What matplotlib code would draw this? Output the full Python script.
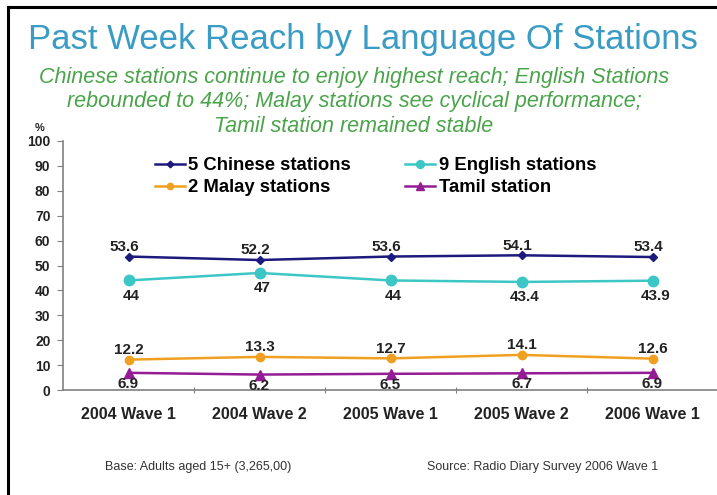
import matplotlib.pyplot as plt
from matplotlib.lines import Line2D

# survey waves and reach (%) per language group
waves = ['2004 Wave 1', '2004 Wave 2', '2005 Wave 1', '2005 Wave 2', '2006 Wave 1']
chinese = [53.6, 52.2, 53.6, 54.1, 53.4]
english = [44, 47, 44, 43.4, 43.9]
malay = [12.2, 13.3, 12.7, 14.1, 12.6]
tamil = [6.9, 6.2, 6.5, 6.7, 6.9]
yticks = [0, 10, 20, 30, 40, 50, 60, 70, 80, 90, 100]

plt.rcParams['font.family'] = ['Liberation Sans', 'DejaVu Sans']

W, H = 717, 495
fig = plt.figure(figsize=(W / 100, H / 100), dpi=100)
fig.patch.set_facecolor('white')

# frame lines on the left and top
fig.add_artist(Line2D([8 / W, 8 / W], [0, 1 - 7 / H], color='black', lw=2.2))
fig.add_artist(Line2D([8 / W, 1], [1 - 7 / H, 1 - 7 / H], color='black', lw=2.2))

x0, x1 = 63, 718
y0, y1 = 390, 141
ax = fig.add_axes([x0 / W, 1 - y0 / H, (x1 - x0) / W, (y0 - y1) / H])

x = list(range(len(waves)))
ax.plot(x, chinese, color='#1c1a7c', lw=1.8, marker='D', ms=4.5, label='5 Chinese stations')
ax.plot(x, english, color='#3cc6c6', lw=1.8, marker='o', ms=7.5, label='9 English stations')
ax.plot(x, malay, color='#f0a020', lw=1.8, marker='o', ms=6, label='2 Malay stations')
ax.plot(x, tamil, color='#941c94', lw=1.8, marker='^', ms=7, label='Tamil station')

lbl = dict(ha='center', fontsize=11, fontweight='bold', color='#222222')
for i in x:
    ax.annotate(f'{chinese[i]:g}', (i, chinese[i]), xytext=(-3, 2), textcoords='offset points', va='bottom', **lbl)
    ax.annotate(f'{english[i]:g}', (i, english[i]), xytext=(2, -6), textcoords='offset points', va='top', **lbl)
    ax.annotate(f'{malay[i]:g}', (i, malay[i]), xytext=(0, 2), textcoords='offset points', va='bottom', **lbl)
    ax.annotate(f'{tamil[i]:g}', (i, tamil[i]), xytext=(0, -3), textcoords='offset points', va='top', **lbl)

ax.set_xlim(-0.5, len(waves) - 0.5)
ax.set_ylim(0, 100)
ax.set_yticks(yticks)
ax.set_yticklabels([str(v) for v in yticks], fontsize=10, fontweight='bold', color='#222222')
ax.set_xticks([i + 0.5 for i in x[:-1]] + [len(waves) - 0.5])
ax.set_xticklabels([])
ax.set_xticks(x, minor=True)
ax.set_xticklabels(waves, minor=True, fontsize=11.5, fontweight='bold', color='#222222')
ax.tick_params(axis='x', which='minor', length=0, pad=12)
ax.tick_params(axis='x', which='major', length=5, direction='inout', color='#808080')
ax.tick_params(axis='y', length=4, color='#808080', pad=5)
for s in ['top', 'right']:
    ax.spines[s].set_visible(False)
for s in ['left', 'bottom']:
    ax.spines[s].set_color('#808080')
    ax.spines[s].set_linewidth(1.2)
ax.set_facecolor('none')

handles, labels = ax.get_legend_handles_labels()
order = [0, 2, 1, 3]
leg_handles = []
for i in order:
    h = handles[i]
    leg_handles.append(Line2D([], [], color=h.get_color(), lw=1.8, marker=h.get_marker(),
                              ms=h.get_markersize() * 0.75))
ax.legend(leg_handles, [labels[i] for i in order], ncol=2, frameon=False,
          loc='upper left', bbox_to_anchor=(155 / W, 1 - 157 / H), bbox_transform=fig.transFigure,
          handlelength=1.6, handletextpad=0.2, borderpad=0,
          columnspacing=2.95, labelspacing=0.28, borderaxespad=0,
          prop={'weight': 'bold', 'size': 13.3})

fig.text(35 / W, 1 - 128 / H, '%', fontsize=8, fontweight='bold', color='#222222', ha='left', va='center')

fig.text(363 / W, 1 - 39 / H, 'Past Week Reach by Language Of Stations', fontsize=25,
         color='#3a9cc4', ha='center', va='center')
sub = ['Chinese stations continue to enjoy highest reach; English Stations',
       'rebounded to 44%; Malay stations see cyclical performance;',
       'Tamil station remained stable']
for k, line in enumerate(sub):
    fig.text(354 / W, 1 - (77 + 25 * k) / H, line, fontsize=15.5, style='italic',
             color='#4aa44a', ha='center', va='center')

fig.text(198 / W, 1 - 467 / H, 'Base: Adults aged 15+ (3,265,00)', fontsize=9,
         color='#333333', ha='center', va='center')
fig.text(543 / W, 1 - 467 / H, 'Source: Radio Diary Survey 2006 Wave 1', fontsize=9,
         color='#333333', ha='center', va='center')

fig.savefig('out.png', dpi=100)
